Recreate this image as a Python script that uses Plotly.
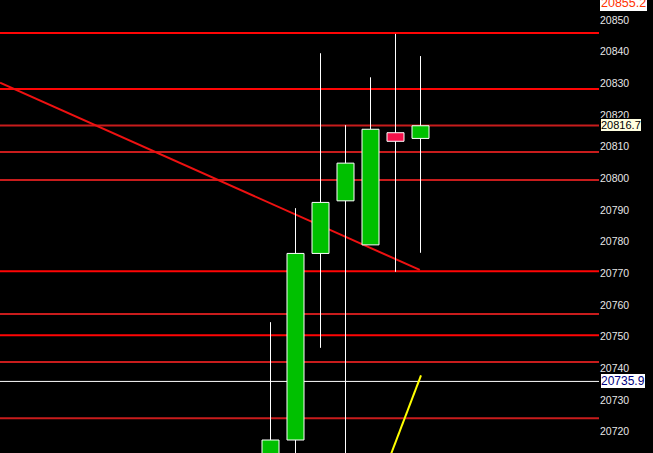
import plotly.graph_objects as go

# ---- data ----
candle_x = [0, 1, 2, 3, 4, 5, 6]
opens  = [20705.0, 20717.4, 20776.3, 20792.9, 20779.0, 20814.4, 20812.6]
highs  = [20754.6, 20790.6, 20839.5, 20816.8, 20831.9, 20845.6, 20838.6]
lows   = [20700.0, 20700.0, 20746.5, 20700.0, 20779.0, 20770.5, 20776.5]
closes = [20717.4, 20776.3, 20792.4, 20804.8, 20815.5, 20811.7, 20816.6]

level_values = [20845.9, 20828.2, 20816.7, 20808.3, 20799.5, 20770.7, 20757.2, 20750.5, 20742.0, 20724.3]
level_bright = [True, True, False, False, False, True, False, True, False, False]

trend_x = [-10.82, 5.97]
trend_y = [20830.2, 20771.1]
yellow_x = [4.6, 6.02]
yellow_y = [20708.4, 20737.8]

crosshair_value = 20735.9
tick_values = list(range(20720, 20851, 10))
price_labels = ["20855.2", "20816.7", "20735.9"]
price_label_values = [20855.2, 20816.7, 20735.9]

# ---- figure ----
GREEN = "#00c000"
RED = "#f5104a"

fig = go.Figure()

# candle bodies
body_base = [min(o, c) for o, c in zip(opens, closes)]
body_h = [abs(c - o) for o, c in zip(opens, closes)]
body_col = [GREEN if c >= o else RED for o, c in zip(opens, closes)]
fig.add_trace(go.Bar(
    x=candle_x, y=body_h, base=body_base, width=0.68,
    marker=dict(color=body_col, line=dict(color="white", width=1)),
    hoverinfo="skip", showlegend=False,
))

# wicks (upper and lower parts, so body fill is not crossed)
wx, wy = [], []
for x, o, h, l, c in zip(candle_x, opens, highs, lows, closes):
    top = max(o, c)
    bot = min(o, c)
    wx += [x, x, None, x, x, None]
    wy += [h, top, None, bot, l, None]
fig.add_trace(go.Scatter(
    x=wx, y=wy, mode="lines", line=dict(color="white", width=1),
    hoverinfo="skip", showlegend=False,
))

shapes = []
for v, b in zip(level_values, level_bright):
    shapes.append(dict(type="line", xref="paper", yref="y", x0=0, x1=1, y0=v, y1=v,
                       line=dict(color="#ff0505" if b else "#c81c1c", width=2), layer="below"))
shapes.append(dict(type="line", xref="x", yref="y", x0=trend_x[0], x1=trend_x[1],
                   y0=trend_y[0], y1=trend_y[1], line=dict(color="#ee1111", width=2), layer="below"))
shapes.append(dict(type="line", xref="x", yref="y", x0=yellow_x[0], x1=yellow_x[1],
                   y0=yellow_y[0], y1=yellow_y[1], line=dict(color="#ffff00", width=2), layer="below"))
shapes.append(dict(type="line", xref="paper", yref="y", x0=0, x1=1, y0=crosshair_value, y1=crosshair_value,
                   line=dict(color="white", width=1), layer="below"))

label_styles = [
    dict(bg="#ffffff", border="#ffffff", color="#ff3300", size=12.5),
    dict(bg="#ffffe1", border="#000000", color="#000000", size=11),
    dict(bg="#ffffff", border="#000000", color="#000080", size=12),
]
annotations = []
for t, v, st in zip(price_labels, price_label_values, label_styles):
    annotations.append(dict(
        xref="paper", yref="y", x=1, y=v, xanchor="left", yanchor="middle",
        text=t, showarrow=False, bgcolor=st["bg"], bordercolor=st["border"],
        borderwidth=1, borderpad=0, xshift=1,
        font=dict(family="Liberation Sans, Arial", size=st["size"], color=st["color"]),
    ))

fig.update_layout(
    width=653, height=453,
    margin=dict(l=0, r=54, t=0, b=0),
    paper_bgcolor="black", plot_bgcolor="black",
    shapes=shapes, annotations=annotations,
    showlegend=False,
    xaxis=dict(range=[-10.82, 13.14], visible=False, fixedrange=True),
    yaxis=dict(
        side="right", range=[20713.3, 20856.3],
        tickvals=tick_values, ticktext=[str(v) for v in tick_values],
        showgrid=False, zeroline=False, showline=False, ticks="",
        tickfont=dict(family="Liberation Sans, Arial", size=10.5, color="#e6e6e6"),
        fixedrange=True,
    ),
)

fig.write_html(
    "out.html",
    config={"displayModeBar": False},
    post_script="document.body.style.margin='0';document.body.style.background='black';",
)
